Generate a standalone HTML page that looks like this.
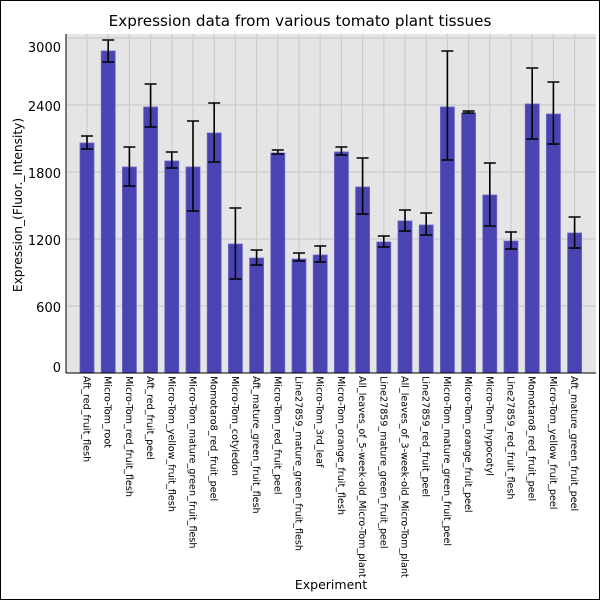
<!DOCTYPE html>
<html><head><meta charset="utf-8"><style>body{margin:0;background:#fff}svg{display:block}text{font-family:"DejaVu Sans","Liberation Sans",sans-serif}</style></head><body>
<svg width="600" height="600" xmlns="http://www.w3.org/2000/svg">
<rect x="0.5" y="0.5" width="599" height="599" fill="#fff" stroke="#000"/>
<text x="300" y="26" font-size="15.2" text-anchor="middle">Expression data from various tomato plant tissues</text>
<rect x="66" y="34" width="530" height="339" fill="#e5e5e5"/>
<path stroke="#cccccc" stroke-width="1.2" fill="none" d="M66,38H596M66,105H596M66,172H596M66,239H596M66,306H596
M87,34V373M108.2,34V373M129.4,34V373M150.6,34V373M171.8,34V373M193,34V373M214.2,34V373M235.4,34V373M256.6,34V373M277.8,34V373M299,34V373M320.2,34V373M341.4,34V373M362.6,34V373M383.8,34V373M405,34V373M426.2,34V373M447.4,34V373M468.6,34V373M489.8,34V373M511,34V373M532.2,34V373M553.4,34V373M574.6,34V373"/>
<g fill="#4a44b2" stroke="#6a66c4" stroke-width="0.8">
<rect x="80" y="143" width="14" height="230"/>
<rect x="101.2" y="51" width="14" height="322"/>
<rect x="122.4" y="167" width="14" height="206"/>
<rect x="143.6" y="107" width="14" height="266"/>
<rect x="164.8" y="161" width="14" height="212"/>
<rect x="186" y="167" width="14" height="206"/>
<rect x="207.2" y="133" width="14" height="240"/>
<rect x="228.4" y="244" width="14" height="129"/>
<rect x="249.6" y="258" width="14" height="115"/>
<rect x="270.8" y="153" width="14" height="220"/>
<rect x="292" y="259" width="14" height="114"/>
<rect x="313.2" y="255" width="14" height="118"/>
<rect x="334.4" y="152" width="14" height="221"/>
<rect x="355.6" y="187" width="14" height="186"/>
<rect x="376.8" y="242" width="14" height="131"/>
<rect x="398" y="221" width="14" height="152"/>
<rect x="419.2" y="225" width="14" height="148"/>
<rect x="440.4" y="107" width="14" height="266"/>
<rect x="461.6" y="113" width="14" height="260"/>
<rect x="482.8" y="195" width="14" height="178"/>
<rect x="504" y="241" width="14" height="132"/>
<rect x="525.2" y="104" width="14" height="269"/>
<rect x="546.4" y="114" width="14" height="259"/>
<rect x="567.6" y="233" width="14" height="140"/>
</g>
<path stroke="#000" stroke-width="1.6" fill="none" d="
M87,136V149M81,136H93M81,149H93
M108.2,40V62M102.2,40H114.2M102.2,62H114.2
M129.4,147V186M123.4,147H135.4M123.4,186H135.4
M150.6,84V127M144.6,84H156.6M144.6,127H156.6
M171.8,152V168M165.8,152H177.8M165.8,168H177.8
M193,121V211M187,121H199M187,211H199
M214.2,103V162M208.2,103H220.2M208.2,162H220.2
M235.4,208V279M229.4,208H241.4M229.4,279H241.4
M256.6,250V265M250.6,250H262.6M250.6,265H262.6
M277.8,150V154M271.8,150H283.8M271.8,154H283.8
M299,253V261M293,253H305M293,261H305
M320.2,246V262M314.2,246H326.2M314.2,262H326.2
M341.4,147V155M335.4,147H347.4M335.4,155H347.4
M362.6,158V214M356.6,158H368.6M356.6,214H368.6
M383.8,236V247M377.8,236H389.8M377.8,247H389.8
M405,210V231M399,210H411M399,231H411
M426.2,213V235M420.2,213H432.2M420.2,235H432.2
M447.4,51V160M441.4,51H453.4M441.4,160H453.4
M468.6,111V113M462.6,111H474.6M462.6,113H474.6
M489.8,163V226M483.8,163H495.8M483.8,226H495.8
M511,232V249M505,232H517M505,249H517
M532.2,68V139M526.2,68H538.2M526.2,139H538.2
M553.4,82V144M547.4,82H559.4M547.4,144H559.4
M574.6,217V248M568.6,217H580.6M568.6,248H580.6"/>
<line x1="66" x2="66" y1="34" y2="373" stroke="#000"/>
<line x1="66" x2="596" y1="373" y2="373" stroke="#000"/>
<g font-size="13" text-anchor="end">
<text x="61" y="52">3000</text><text x="61" y="111">2400</text><text x="61" y="178">1800</text><text x="61" y="245">1200</text><text x="61" y="312">600</text><text x="61" y="372">0</text>
</g>
<text transform="translate(22,205) rotate(-90)" font-size="12.2" text-anchor="middle">Expression_(Fluor._Intensity)</text>
<text x="331" y="589" font-size="12.5" text-anchor="middle">Experiment</text>
<g font-size="9.6">
<text transform="translate(83.5,376) rotate(90)">Aft_red_fruit_flesh</text>
<text transform="translate(104.7,376) rotate(90)">Micro-Tom_root</text>
<text transform="translate(125.9,376) rotate(90)">Micro-Tom_red_fruit_flesh</text>
<text transform="translate(147.1,376) rotate(90)">Aft_red_fruit_peel</text>
<text transform="translate(168.3,376) rotate(90)">Micro-Tom_yellow_fruit_flesh</text>
<text transform="translate(189.5,376) rotate(90)">Micro-Tom_mature_green_fruit_flesh</text>
<text transform="translate(210.7,376) rotate(90)">Momotaro8_red_fruit_peel</text>
<text transform="translate(231.9,376) rotate(90)">Micro-Tom_cotyledon</text>
<text transform="translate(253.1,376) rotate(90)">Aft_mature_green_fruit_flesh</text>
<text transform="translate(274.3,376) rotate(90)">Micro-Tom_red_fruit_peel</text>
<text transform="translate(295.5,376) rotate(90)">Line27859_mature_green_fruit_flesh</text>
<text transform="translate(316.7,376) rotate(90)">Micro-Tom_3rd_leaf</text>
<text transform="translate(337.9,376) rotate(90)">Micro-Tom_orange_fruit_flesh</text>
<text transform="translate(359.1,376) rotate(90)">All_leaves_of_5-week-old_Micro-Tom_plant</text>
<text transform="translate(380.3,376) rotate(90)">Line27859_mature_green_fruit_peel</text>
<text transform="translate(401.5,376) rotate(90)">All_leaves_of_3-week-old_Micro-Tom_plant</text>
<text transform="translate(422.7,376) rotate(90)">Line27859_red_fruit_peel</text>
<text transform="translate(443.9,376) rotate(90)">Micro-Tom_mature_green_fruit_peel</text>
<text transform="translate(465.1,376) rotate(90)">Micro-Tom_orange_fruit_peel</text>
<text transform="translate(486.3,376) rotate(90)">Micro-Tom_hypocotyl</text>
<text transform="translate(507.5,376) rotate(90)">Line27859_red_fruit_flesh</text>
<text transform="translate(528.7,376) rotate(90)">Momotaro8_red_fruit_peel</text>
<text transform="translate(549.9,376) rotate(90)">Micro-Tom_yellow_fruit_peel</text>
<text transform="translate(571.1,376) rotate(90)">Aft_mature_green_fruit_peel</text>
</g>
</svg>
</body></html>
